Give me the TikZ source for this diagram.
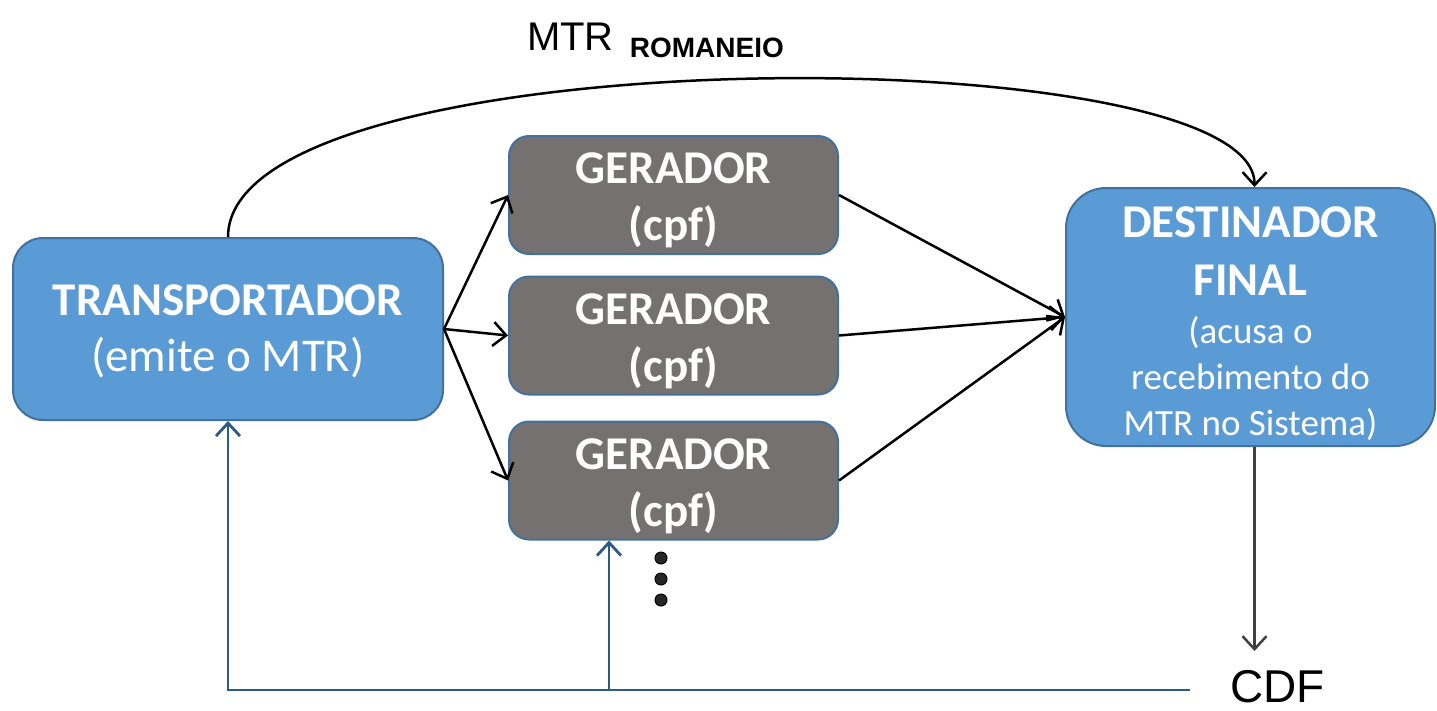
\documentclass[tikz,border=0pt]{standalone}
\usepackage{fontspec}
\setmainfont{Carlito}
\newfontfamily\arialfont{Liberation Sans}
\usetikzlibrary{arrows.meta,positioning}

\definecolor{boxblue}{HTML}{5B9BD5}
\definecolor{boxedge}{HTML}{41719C}
\definecolor{boxgray}{HTML}{767171}
\definecolor{backline}{HTML}{2E5A88}
\definecolor{downline}{HTML}{404040}

\tikzset{
  agent/.style={draw=boxedge, line width=2pt, fill=boxblue, text=white, align=center, inner sep=0pt},
  gerador/.style={draw=boxedge, line width=2pt, fill=boxgray, text=white, align=center,
    rounded corners=20pt, minimum width=329pt, minimum height=118pt, inner sep=0pt,
    font=\fontsize{47}{57}\selectfont\bfseries},
  flow/.style={->, line width=2.5pt, black},
  feedback/.style={line width=2.8pt, backline},
  pt/.style={circle, draw=black, fill=black!85, line width=1pt, minimum size=12pt, inner sep=0pt},
}

\begin{document}
\begin{tikzpicture}[x=1pt, y=-1pt, >={Straight Barb[length=13pt,width=24pt]}]
        \useasboundingbox (0,0) rectangle (1437,710);

        \node[agent, rounded corners=30pt, minimum width=430pt, minimum height=182pt,
              font=\fontsize{47}{56}\selectfont] (T) at (228,329)
              {\rule{0pt}{36pt}\textbf{TRANSPORTADOR}\\(emite o MTR)};
        \node[gerador] (G1) at (673.5,195) {\rule{0pt}{42pt}GERADOR\\(cpf)};
        \node[gerador] (G2) at (673.5,335.5) {\rule{0pt}{42pt}GERADOR\\(cpf)};
        \node[gerador] (G3) at (673.5,480.5) {\rule{0pt}{42pt}GERADOR\\(cpf)};
        \node[agent, rounded corners=40pt, minimum width=369pt, minimum height=258pt,
              font=\fontsize{37}{46}\selectfont] (D) at (1250.5,317)
              {\rule{0pt}{44pt}{\fontsize{47}{57}\selectfont\bfseries DESTINADOR}\\[12pt]
               {\fontsize{47}{57}\selectfont\bfseries FINAL}\\[2pt]
               (acusa o\\recebimento do\\MTR no Sistema)};

        \node[pt] (d1) at (661,558) {};
        \node[pt] (d2) at (661,579) {};
        \node[pt] (d3) at (661,600) {};

        \node[anchor=base west, inner sep=0pt] (mtr) at (527,50)
              {\arialfont\fontsize{40}{48}\selectfont MTR\hspace{16pt}\raisebox{-7pt}{\fontsize{28}{32}\selectfont\bfseries ROMANEIO}};
        \node[anchor=base west, inner sep=0pt] (cdf) at (1230,702)
              {\arialfont\fontsize{46}{52}\selectfont CDF};

        \coordinate (cdfin) at (1190,690);
        \coordinate (split) at (609,690);

        \draw[flow] (T.east) -- (G1.west);
        \draw[flow] (T.east) -- (G2.west);
        \draw[flow] (T.east) -- (G3.west);
        \draw[flow] (G1.east) -- (D.west);
        \draw[flow] (G2.east) -- (D.west);
        \draw[flow] (G3.east) -- (D.west);
        \draw[flow] (T.north) .. controls (228,35) and (1255,35) .. ([xshift=4pt]D.north);
        \draw[->, line width=2.5pt, downline] ([xshift=4pt]D.south) -- ++(0,204);
        \draw[feedback, ->] (cdfin) -| (T.south);
        \draw[feedback, ->] (split) -- (split |- G3.south);
\end{tikzpicture}
\end{document}
